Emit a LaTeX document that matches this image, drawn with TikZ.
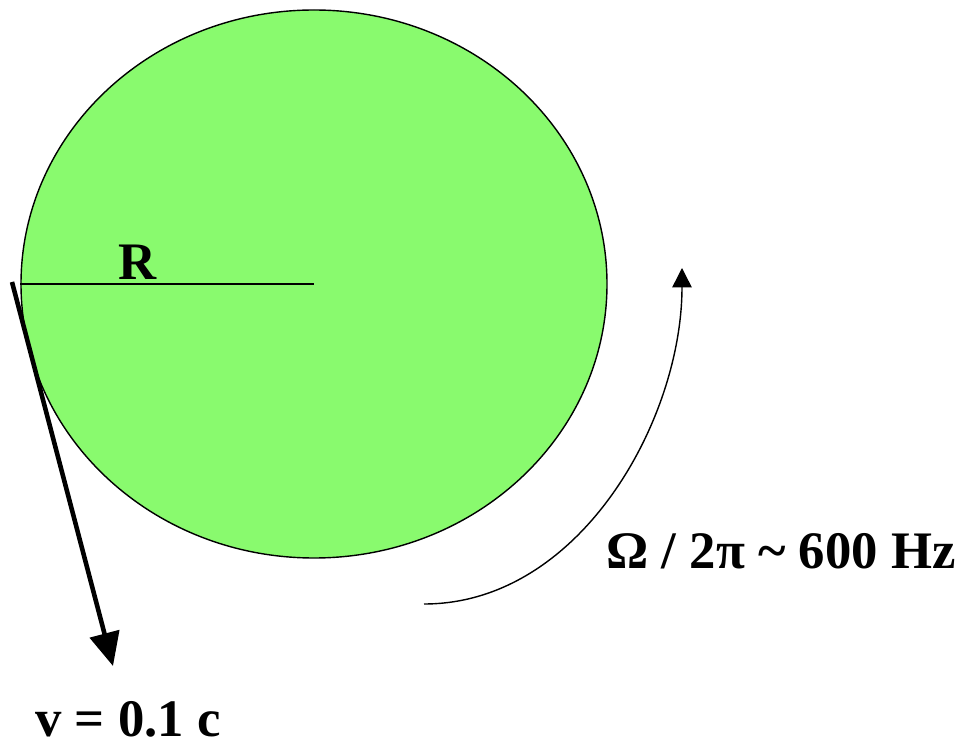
\documentclass[tikz,border=0pt]{standalone}
\usepackage{fontspec}
\setmainfont{Liberation Serif}
\usetikzlibrary{arrows.meta,shapes.geometric}
\definecolor{stargreen}{RGB}{137,250,110}

\tikzset{
  biglabel/.style={font=\bfseries\fontsize{30}{32}\selectfont, inner sep=0pt},
  spinarrow/.style={line width=0.8pt, -{Triangle[length=11pt,width=11pt]}},
  velarrow/.style={line width=2.6pt, -{Triangle[length=19pt,width=17pt]}}
}

\begin{document}
\begin{tikzpicture}[x=0.02cm,y=-0.02cm]
  \useasboundingbox (0,0) rectangle (968,746);
  % the star
  \node[ellipse, draw, line width=0.8pt, fill=stargreen, inner sep=0pt,
        minimum width=586*0.02cm, minimum height=548*0.02cm] (star) at (314,284) {};
  \draw[line width=0.8pt] (star.west) -- (star.center);
  \node[biglabel] (rlab) at (138,262) {R};
  % surface velocity
  \coordinate (vstart) at (12,282);
  \coordinate (vend) at (113,666);
  \draw[velarrow] (vstart) -- (vend);
  \node[biglabel] (vlab) at (128,719) {v = 0.1 c};
  % rotation
  \coordinate (rotstart) at (424,604);
  \coordinate (rotend) at (682,268);
  \draw[spinarrow] (rotstart) .. controls (580,604) and (682,420) .. (rotend);
  \node[biglabel] (omlab) at (781,551) {Ω / 2π \textasciitilde{} 600 Hz};
\end{tikzpicture}
\end{document}
